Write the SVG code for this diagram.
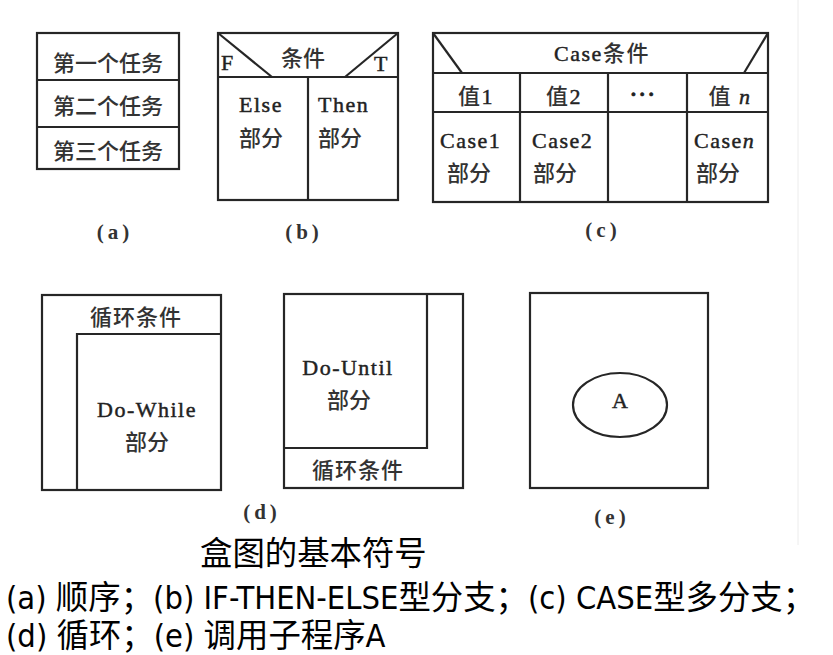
<svg xmlns="http://www.w3.org/2000/svg" width="833" height="655" viewBox="0 0 833 655">
<style>
.box{fill:none;stroke:#262626;stroke-width:2.2;stroke-linejoin:miter}
.ln{fill:none;stroke:#262626;stroke-width:2.2}
.cn{font-family:"Noto Sans CJK SC",sans-serif;font-size:22px;fill:#333;font-weight:500;stroke:none}
.lt{font-family:"Liberation Serif","Noto Sans CJK SC",serif;font-size:22px;fill:#222;letter-spacing:1.5px;stroke:#222;stroke-width:0.45}
.lbl{font-family:"Liberation Serif",serif;font-size:21px;font-weight:bold;fill:#333;letter-spacing:4px}
.mid{text-anchor:middle}
.cap{font-family:"DejaVu Sans Condensed","DejaVu Sans","Noto Sans CJK SC",sans-serif;font-size:32.4px;fill:#000}
</style>
<rect width="833" height="655" fill="#fff"/>
<line x1="798" y1="0" x2="798" y2="545" stroke="#ececec" stroke-width="1"/>
<g id="connectors"/>
<g id="node-a">
<rect class="box" x="37" y="33" width="142" height="136"/>
<line class="ln" x1="37" y1="80" x2="179" y2="80"/>
<line class="ln" x1="37" y1="127" x2="179" y2="127"/>
<text class="cn mid" x="108" y="71">第一个任务</text>
<text class="cn mid" x="108" y="114">第二个任务</text>
<text class="cn mid" x="108" y="159">第三个任务</text>
<text class="lbl mid" x="115" y="239">(a)</text>
</g>
<g id="node-b">
<rect class="box" x="218" y="33" width="180" height="167"/>
<line class="ln" x1="218" y1="77" x2="398" y2="77"/>
<line class="ln" x1="308" y1="77" x2="308" y2="200"/>
<line class="ln" x1="218" y1="33" x2="272" y2="77"/>
<line class="ln" x1="398" y1="33" x2="345" y2="77"/>
<text class="cn mid" x="303" y="66">条件</text>
<text class="lt" x="221" y="70" style="letter-spacing:0">F</text>
<text class="lt" x="374" y="71" style="letter-spacing:0">T</text>
<text class="lt mid" x="261" y="112">Else</text>
<text class="cn mid" x="261" y="146">部分</text>
<text class="lt" x="318" y="112">Then</text>
<text class="cn" x="318" y="146">部分</text>
<text class="lbl mid" x="304" y="239">(b)</text>
</g>
<g id="node-c">
<rect class="box" x="433" y="33" width="335" height="169"/>
<line class="ln" x1="433" y1="73" x2="768" y2="73"/>
<line class="ln" x1="433" y1="112" x2="768" y2="112"/>
<line class="ln" x1="520" y1="73" x2="520" y2="202"/>
<line class="ln" x1="608" y1="73" x2="608" y2="202"/>
<line class="ln" x1="687" y1="73" x2="687" y2="202"/>
<line class="ln" x1="433" y1="33" x2="462" y2="73"/>
<line class="ln" x1="768" y1="33" x2="744" y2="73"/>
<text class="lt mid" x="602" y="61">Case<tspan class="cn">条件</tspan></text>
<text class="lt mid" x="476" y="104"><tspan class="cn">值</tspan>1</text>
<text class="lt mid" x="564" y="104"><tspan class="cn">值</tspan>2</text>
<text class="lt mid" x="643" y="101" style="font-weight:bold">···</text>
<text class="lt mid" x="730" y="104"><tspan class="cn">值</tspan> <tspan font-style="italic">n</tspan></text>
<text class="lt" x="440" y="148">Case1</text>
<text class="cn" x="447" y="181">部分</text>
<text class="lt" x="532" y="148">Case2</text>
<text class="cn" x="533" y="181">部分</text>
<text class="lt" x="694" y="148">Case<tspan font-style="italic">n</tspan></text>
<text class="cn" x="696" y="181">部分</text>
<text class="lbl mid" x="603" y="237">(c)</text>
</g>
<g id="node-d-while">
<rect class="box" x="42" y="295" width="179" height="195"/>
<path class="ln" d="M77,490 V334 H221"/>
<text class="cn mid" x="136" y="325" style="letter-spacing:1px">循环条件</text>
<text class="lt mid" x="147" y="417">Do-While</text>
<text class="cn mid" x="147" y="450">部分</text>
</g>
<g id="node-d-until">
<rect class="box" x="284" y="294" width="179" height="194"/>
<path class="ln" d="M284,448 H427 V294"/>
<text class="lt mid" x="348" y="375">Do-Until</text>
<text class="cn mid" x="349" y="408">部分</text>
<text class="cn mid" x="358" y="478" style="letter-spacing:1px">循环条件</text>
<text class="lbl mid" x="262" y="519">(d)</text>
</g>
<g id="node-e">
<rect class="box" x="530" y="293" width="178" height="195"/>
<ellipse class="ln" cx="620" cy="405" rx="47" ry="32"/>
<text class="lt mid" x="620" y="408" style="letter-spacing:0">A</text>
<text class="lbl mid" x="612" y="524">(e)</text>
</g>
<g id="caption">
<text class="cap" x="200" y="565">盒图的基本符号</text>
<text class="cap" x="6" y="609">(a) 顺序；(b) IF-THEN-ELSE型分支；(c) CASE型多分支；</text>
<text class="cap" x="6" y="647">(d) 循环；(e) 调用子程序A</text>
</g>
</svg>
